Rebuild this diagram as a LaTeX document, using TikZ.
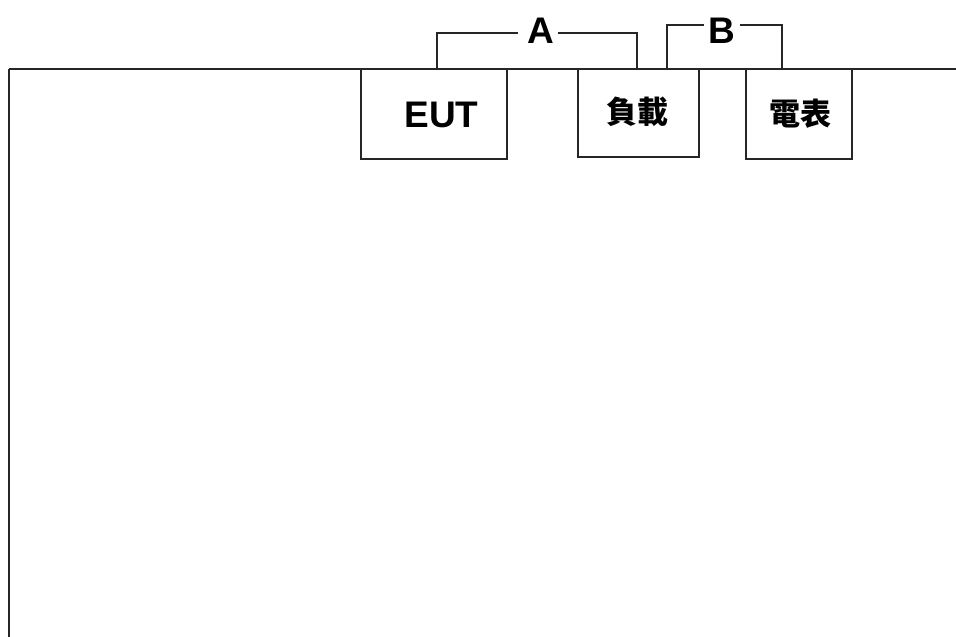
\documentclass[tikz,border=0pt]{standalone}
\usepackage{fontspec}
\setmainfont{Liberation Sans}
\newfontfamily\cjk{Noto Sans CJK TC}
\begin{document}
\begin{tikzpicture}[x=1pt,y=-1pt,
  ln/.style={line width=1.3pt, draw=black!85},
  box/.style={draw=black!85, line width=1.3pt, fill=white, inner sep=0pt, anchor=center},
  lat/.style={font=\fontsize{37}{40}\selectfont\bfseries, inner sep=0pt, anchor=base},
  ch/.style={font=\fontsize{31}{33}\selectfont\cjk\bfseries, inner sep=0pt, anchor=center}]
\useasboundingbox (0,0) rectangle (956,637);
\coordinate (bl) at (9,637);
\coordinate (tl) at (9,69);
\coordinate (tr) at (956,69);
\draw[ln, line width=1.8pt] (bl) -- (tl);
\draw[ln] (tl) -- (tr);
\node[box, minimum width=146pt, minimum height=90pt] (eut) at (434,114) {};
\node[lat] (eutt) at (441.5,127) {EUT};
\node[box, minimum width=121pt, minimum height=88pt] (load) at (638.5,113) {};
\node[ch] (loadt) at (637,112) {負載};
\node[box, minimum width=106pt, minimum height=90pt] (meter) at (799,114) {};
\node[ch] (metert) at (800,114) {電表};
% bracket A
\node[lat] (A) at (541,43) {A};
\coordinate (aL) at (437,69);
\coordinate (aR) at (637,69);
\draw[ln] (aL) -- (437,33) -- (518,33);
\draw[ln] (558,33) -- (637,33) -- (aR);
% bracket B
\node[lat] (B) at (722,43) {B};
\coordinate (bL) at (667,69);
\coordinate (bR) at (782,69);
\draw[ln] (bL) -- (667,25) -- (704,25);
\draw[ln] (740,25) -- (782,25) -- (bR);
\end{tikzpicture}
\end{document}
